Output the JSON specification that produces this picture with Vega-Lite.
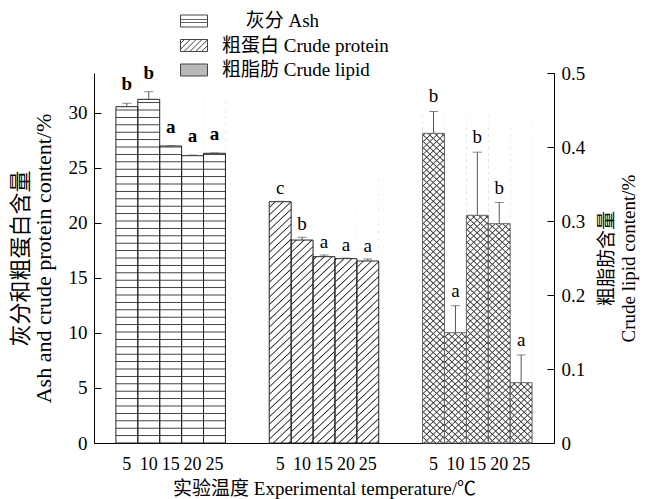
{
"$schema":"https://vega.github.io/schema/vega-lite/v6.json",
"width":460,"height":370,
"autosize":{"type":"none"},
"padding":{"left":94,"top":73,"right":97,"bottom":56},
"background":"white",
"config":{"view":{"stroke":null},
"axis":{"grid":false,"domainColor":"#000","tickColor":"#000","labelColor":"#000","titleColor":"#000","labelFont":"Liberation Serif, Noto Sans CJK SC","titleFont":"Liberation Serif, Noto Sans CJK SC","titleFontWeight":"normal","labelFontSize":19,"titleFontSize":19,"labelOverlap":false,"domainWidth":1,"tickWidth":1}},
"data":{"values":[
{"slot":"A5","comp":"Ash","v":30.54,"e":30.85,"sig":"b"},
{"slot":"A10","comp":"Ash","v":31.21,"e":31.9,"sig":"b"},
{"slot":"A15","comp":"Ash","v":26.97,"e":27.0,"sig":"a"},
{"slot":"A20","comp":"Ash","v":26.09,"e":26.15,"sig":"a"},
{"slot":"A25","comp":"Ash","v":26.31,"e":26.34,"sig":"a"},
{"slot":"P5","comp":"Crude protein","v":21.91,"e":21.95,"sig":"c"},
{"slot":"P10","comp":"Crude protein","v":18.43,"e":18.68,"sig":"b"},
{"slot":"P15","comp":"Crude protein","v":16.92,"e":17.07,"sig":"a"},
{"slot":"P20","comp":"Crude protein","v":16.74,"e":16.8,"sig":"a"},
{"slot":"P25","comp":"Crude protein","v":16.53,"e":16.71,"sig":"a"},
{"slot":"L5","comp":"Crude lipid","v":0.4185,"e":0.448,"sig":"b"},
{"slot":"L10","comp":"Crude lipid","v":0.149,"e":0.1856,"sig":"a"},
{"slot":"L15","comp":"Crude lipid","v":0.3077,"e":0.393,"sig":"b"},
{"slot":"L20","comp":"Crude lipid","v":0.2964,"e":0.325,"sig":"b"},
{"slot":"L25","comp":"Crude lipid","v":0.0815,"e":0.119,"sig":"a"}
]},
"encoding":{"x":{"field":"slot","type":"nominal",
"scale":{"domain":["A5","A10","A15","A20","A25","g1","g2","P5","P10","P15","P20","P25","g3","g4","L5","L10","L15","L20","L25"],"paddingInner":0,"paddingOuter":1.55},
"axis":{"title":"实验温度 Experimental temperature/℃","labelExpr":"indexof(datum.value,'g')==0 ? '' : substring(datum.value,1)","ticks":false,"labelAngle":0,"labelFontSize":18,"labelPadding":12,"titlePadding":6}}},
"layer":[
{"transform":[{"filter":"datum.comp != 'Crude lipid'"}],
"layer":[
{"transform":[{"filter":"datum.comp == 'Ash'"}],
"mark":{"type":"bar","fill":{"gradient":"linear","x1":0,"y1":0,"x2":0,"y2":1,"stops":[
{"offset":0.0775,"color":"#fff"},{"offset":0.08,"color":"#333"},{"offset":0.0825,"color":"#fff"},
{"offset":0.0975,"color":"#fff"},{"offset":0.1,"color":"#333"},{"offset":0.1025,"color":"#fff"},
{"offset":0.1175,"color":"#fff"},{"offset":0.12,"color":"#333"},{"offset":0.1225,"color":"#fff"},
{"offset":0.1375,"color":"#fff"},{"offset":0.14,"color":"#333"},{"offset":0.1425,"color":"#fff"},
{"offset":0.1575,"color":"#fff"},{"offset":0.16,"color":"#333"},{"offset":0.1625,"color":"#fff"},
{"offset":0.1775,"color":"#fff"},{"offset":0.18,"color":"#333"},{"offset":0.1825,"color":"#fff"},
{"offset":0.1975,"color":"#fff"},{"offset":0.2,"color":"#333"},{"offset":0.2025,"color":"#fff"},
{"offset":0.2175,"color":"#fff"},{"offset":0.22,"color":"#333"},{"offset":0.2225,"color":"#fff"},
{"offset":0.2375,"color":"#fff"},{"offset":0.24,"color":"#333"},{"offset":0.2425,"color":"#fff"},
{"offset":0.2575,"color":"#fff"},{"offset":0.26,"color":"#333"},{"offset":0.2625,"color":"#fff"},
{"offset":0.2775,"color":"#fff"},{"offset":0.28,"color":"#333"},{"offset":0.2825,"color":"#fff"},
{"offset":0.2975,"color":"#fff"},{"offset":0.3,"color":"#333"},{"offset":0.3025,"color":"#fff"},
{"offset":0.3175,"color":"#fff"},{"offset":0.32,"color":"#333"},{"offset":0.3225,"color":"#fff"},
{"offset":0.3375,"color":"#fff"},{"offset":0.34,"color":"#333"},{"offset":0.3425,"color":"#fff"},
{"offset":0.3575,"color":"#fff"},{"offset":0.36,"color":"#333"},{"offset":0.3625,"color":"#fff"},
{"offset":0.3775,"color":"#fff"},{"offset":0.38,"color":"#333"},{"offset":0.3825,"color":"#fff"},
{"offset":0.3975,"color":"#fff"},{"offset":0.4,"color":"#333"},{"offset":0.4025,"color":"#fff"},
{"offset":0.4175,"color":"#fff"},{"offset":0.42,"color":"#333"},{"offset":0.4225,"color":"#fff"},
{"offset":0.4375,"color":"#fff"},{"offset":0.44,"color":"#333"},{"offset":0.4425,"color":"#fff"},
{"offset":0.4575,"color":"#fff"},{"offset":0.46,"color":"#333"},{"offset":0.4625,"color":"#fff"},
{"offset":0.4775,"color":"#fff"},{"offset":0.48,"color":"#333"},{"offset":0.4825,"color":"#fff"},
{"offset":0.4975,"color":"#fff"},{"offset":0.5,"color":"#333"},{"offset":0.5025,"color":"#fff"},
{"offset":0.5175,"color":"#fff"},{"offset":0.52,"color":"#333"},{"offset":0.5225,"color":"#fff"},
{"offset":0.5375,"color":"#fff"},{"offset":0.54,"color":"#333"},{"offset":0.5425,"color":"#fff"},
{"offset":0.5575,"color":"#fff"},{"offset":0.56,"color":"#333"},{"offset":0.5625,"color":"#fff"},
{"offset":0.5775,"color":"#fff"},{"offset":0.58,"color":"#333"},{"offset":0.5825,"color":"#fff"},
{"offset":0.5975,"color":"#fff"},{"offset":0.6,"color":"#333"},{"offset":0.6025,"color":"#fff"},
{"offset":0.6175,"color":"#fff"},{"offset":0.62,"color":"#333"},{"offset":0.6225,"color":"#fff"},
{"offset":0.6375,"color":"#fff"},{"offset":0.64,"color":"#333"},{"offset":0.6425,"color":"#fff"},
{"offset":0.6575,"color":"#fff"},{"offset":0.66,"color":"#333"},{"offset":0.6625,"color":"#fff"},
{"offset":0.6775,"color":"#fff"},{"offset":0.68,"color":"#333"},{"offset":0.6825,"color":"#fff"},
{"offset":0.6975,"color":"#fff"},{"offset":0.7,"color":"#333"},{"offset":0.7025,"color":"#fff"},
{"offset":0.7175,"color":"#fff"},{"offset":0.72,"color":"#333"},{"offset":0.7225,"color":"#fff"},
{"offset":0.7375,"color":"#fff"},{"offset":0.74,"color":"#333"},{"offset":0.7425,"color":"#fff"},
{"offset":0.7575,"color":"#fff"},{"offset":0.76,"color":"#333"},{"offset":0.7625,"color":"#fff"},
{"offset":0.7775,"color":"#fff"},{"offset":0.78,"color":"#333"},{"offset":0.7825,"color":"#fff"},
{"offset":0.7975,"color":"#fff"},{"offset":0.8,"color":"#333"},{"offset":0.8025,"color":"#fff"},
{"offset":0.8175,"color":"#fff"},{"offset":0.82,"color":"#333"},{"offset":0.8225,"color":"#fff"},
{"offset":0.8375,"color":"#fff"},{"offset":0.84,"color":"#333"},{"offset":0.8425,"color":"#fff"},
{"offset":0.8575,"color":"#fff"},{"offset":0.86,"color":"#333"},{"offset":0.8625,"color":"#fff"},
{"offset":0.8775,"color":"#fff"},{"offset":0.88,"color":"#333"},{"offset":0.8825,"color":"#fff"},
{"offset":0.8975,"color":"#fff"},{"offset":0.9,"color":"#333"},{"offset":0.9025,"color":"#fff"},
{"offset":0.9175,"color":"#fff"},{"offset":0.92,"color":"#333"},{"offset":0.9225,"color":"#fff"},
{"offset":0.9375,"color":"#fff"},{"offset":0.94,"color":"#333"},{"offset":0.9425,"color":"#fff"},
{"offset":0.9575,"color":"#fff"},{"offset":0.96,"color":"#333"},{"offset":0.9625,"color":"#fff"},
{"offset":0.9775,"color":"#fff"},{"offset":0.98,"color":"#333"},{"offset":0.9825,"color":"#fff"}
]}},
"encoding":{"y":{"datum":33.6,"type":"quantitative","scale":{"domain":[0,33.6],"nice":false}},"y2":{"datum":0}}},
{"transform":[{"filter":"datum.comp == 'Crude protein'"}],
"mark":{"type":"bar","fill":{"gradient":"linear","x1":0,"y1":0,"x2":0.0596,"y2":1.06,"stops":[
{"offset":0.32,"color":"#fff"},{"offset":0.323,"color":"#222"},{"offset":0.326,"color":"#fff"},
{"offset":0.339,"color":"#fff"},{"offset":0.342,"color":"#222"},{"offset":0.345,"color":"#fff"},
{"offset":0.358,"color":"#fff"},{"offset":0.361,"color":"#222"},{"offset":0.364,"color":"#fff"},
{"offset":0.377,"color":"#fff"},{"offset":0.38,"color":"#222"},{"offset":0.383,"color":"#fff"},
{"offset":0.396,"color":"#fff"},{"offset":0.399,"color":"#222"},{"offset":0.402,"color":"#fff"},
{"offset":0.415,"color":"#fff"},{"offset":0.418,"color":"#222"},{"offset":0.421,"color":"#fff"},
{"offset":0.434,"color":"#fff"},{"offset":0.437,"color":"#222"},{"offset":0.44,"color":"#fff"},
{"offset":0.453,"color":"#fff"},{"offset":0.456,"color":"#222"},{"offset":0.459,"color":"#fff"},
{"offset":0.472,"color":"#fff"},{"offset":0.475,"color":"#222"},{"offset":0.478,"color":"#fff"},
{"offset":0.491,"color":"#fff"},{"offset":0.494,"color":"#222"},{"offset":0.497,"color":"#fff"},
{"offset":0.51,"color":"#fff"},{"offset":0.513,"color":"#222"},{"offset":0.516,"color":"#fff"},
{"offset":0.529,"color":"#fff"},{"offset":0.532,"color":"#222"},{"offset":0.535,"color":"#fff"},
{"offset":0.548,"color":"#fff"},{"offset":0.551,"color":"#222"},{"offset":0.554,"color":"#fff"},
{"offset":0.567,"color":"#fff"},{"offset":0.57,"color":"#222"},{"offset":0.573,"color":"#fff"},
{"offset":0.586,"color":"#fff"},{"offset":0.589,"color":"#222"},{"offset":0.592,"color":"#fff"},
{"offset":0.605,"color":"#fff"},{"offset":0.608,"color":"#222"},{"offset":0.611,"color":"#fff"},
{"offset":0.624,"color":"#fff"},{"offset":0.627,"color":"#222"},{"offset":0.63,"color":"#fff"},
{"offset":0.643,"color":"#fff"},{"offset":0.646,"color":"#222"},{"offset":0.649,"color":"#fff"},
{"offset":0.662,"color":"#fff"},{"offset":0.665,"color":"#222"},{"offset":0.668,"color":"#fff"},
{"offset":0.681,"color":"#fff"},{"offset":0.684,"color":"#222"},{"offset":0.687,"color":"#fff"},
{"offset":0.7,"color":"#fff"},{"offset":0.703,"color":"#222"},{"offset":0.706,"color":"#fff"},
{"offset":0.719,"color":"#fff"},{"offset":0.722,"color":"#222"},{"offset":0.725,"color":"#fff"},
{"offset":0.738,"color":"#fff"},{"offset":0.741,"color":"#222"},{"offset":0.744,"color":"#fff"},
{"offset":0.757,"color":"#fff"},{"offset":0.76,"color":"#222"},{"offset":0.763,"color":"#fff"},
{"offset":0.776,"color":"#fff"},{"offset":0.779,"color":"#222"},{"offset":0.782,"color":"#fff"},
{"offset":0.795,"color":"#fff"},{"offset":0.798,"color":"#222"},{"offset":0.801,"color":"#fff"},
{"offset":0.814,"color":"#fff"},{"offset":0.817,"color":"#222"},{"offset":0.82,"color":"#fff"},
{"offset":0.833,"color":"#fff"},{"offset":0.836,"color":"#222"},{"offset":0.839,"color":"#fff"},
{"offset":0.852,"color":"#fff"},{"offset":0.855,"color":"#222"},{"offset":0.858,"color":"#fff"},
{"offset":0.871,"color":"#fff"},{"offset":0.874,"color":"#222"},{"offset":0.877,"color":"#fff"},
{"offset":0.89,"color":"#fff"},{"offset":0.893,"color":"#222"},{"offset":0.896,"color":"#fff"},
{"offset":0.909,"color":"#fff"},{"offset":0.912,"color":"#222"},{"offset":0.915,"color":"#fff"},
{"offset":0.928,"color":"#fff"},{"offset":0.931,"color":"#222"},{"offset":0.934,"color":"#fff"},
{"offset":0.947,"color":"#fff"},{"offset":0.95,"color":"#222"},{"offset":0.953,"color":"#fff"},
{"offset":0.966,"color":"#fff"},{"offset":0.969,"color":"#222"},{"offset":0.972,"color":"#fff"},
{"offset":0.985,"color":"#fff"},{"offset":0.988,"color":"#222"},{"offset":0.991,"color":"#fff"}
]}},
"encoding":{"y":{"datum":33.6,"type":"quantitative","scale":{"domain":[0,33.6],"nice":false}},"y2":{"datum":0}}},
{"mark":{"type":"bar","fill":"#fff"},
"encoding":{"y":{"field":"v","type":"quantitative","scale":{"domain":[0,33.6],"nice":false}},"y2":{"datum":33.6}}},
{"mark":{"type":"bar","fill":"transparent","stroke":"#222","strokeWidth":1},
"encoding":{"y":{"field":"v","type":"quantitative","scale":{"domain":[0,33.6],"nice":false},
"axis":{"orient":"left","values":[0,2.5,5,7.5,10,12.5,15,17.5,20,22.5,25,27.5,30,32.5],"labelExpr":"datum.value % 5 == 0 ? format(datum.value,'d') : ''","tickSize":-7,"labelPadding":14,"title":["灰分和粗蛋白含量","Ash and crude protein content/%"],"titleFontSize":22,"titleLineHeight":23,"titlePadding":13}}}},
{"mark":{"type":"rule","stroke":"#555","strokeWidth":1},
"encoding":{"y":{"field":"v","type":"quantitative","scale":{"domain":[0,33.6],"nice":false}},"y2":{"field":"e"}}},
{"mark":{"type":"tick","color":"#555","size":9,"thickness":1},
"encoding":{"y":{"field":"e","type":"quantitative","scale":{"domain":[0,33.6],"nice":false}}}},
{"transform":[{"filter":"datum.comp == 'Ash'"}],
"mark":{"type":"text","font":"Liberation Serif","fontSize":19,"fontWeight":"bold","baseline":"alphabetic","dy":-13,"color":"#000"},
"encoding":{"y":{"field":"e","type":"quantitative","scale":{"domain":[0,33.6],"nice":false}},"text":{"field":"sig"}}},
{"transform":[{"filter":"datum.comp == 'Crude protein'"}],
"mark":{"type":"text","font":"Liberation Serif","fontSize":19,"baseline":"alphabetic","dy":-7,"color":"#000"},
"encoding":{"y":{"field":"e","type":"quantitative","scale":{"domain":[0,33.6],"nice":false}},"text":{"field":"sig"}}},
{"mark":{"type":"bar"},
"encoding":{"y":{"datum":0,"type":"quantitative","scale":{"domain":[0,33.6],"nice":false}},"y2":{"datum":0},
"fill":{"field":"comp","type":"nominal","scale":{"domain":["Ash","Crude protein","Crude lipid"],"range":[
{"expr":"{gradient:'linear',x1:0,y1:0,x2:0,y2:1,stops:[{offset:0.3,color:'#fff'},{offset:0.36,color:'#333'},{offset:0.42,color:'#fff'},{offset:0.58,color:'#fff'},{offset:0.64,color:'#333'},{offset:0.7,color:'#fff'}]}"},
{"expr":"{gradient:'linear',x1:0,y1:0,x2:1.206,y2:0.536,stops:[{offset:0.075,color:'#fff'},{offset:0.1,color:'#333'},{offset:0.125,color:'#fff'},{offset:0.225,color:'#fff'},{offset:0.25,color:'#333'},{offset:0.275,color:'#fff'},{offset:0.375,color:'#fff'},{offset:0.4,color:'#333'},{offset:0.425,color:'#fff'},{offset:0.525,color:'#fff'},{offset:0.55,color:'#333'},{offset:0.575,color:'#fff'},{offset:0.675,color:'#fff'},{offset:0.7,color:'#333'},{offset:0.725,color:'#fff'},{offset:0.825,color:'#fff'},{offset:0.85,color:'#333'},{offset:0.875,color:'#fff'}]}"},
"#b8b8b8"]},
"legend":{"orient":"none","legendX":86,"legendY":-66,"title":null,"symbolType":"M-1,-0.444H1V0.444H-1Z","symbolSize":729,"labelFont":"Liberation Serif, Noto Sans CJK SC","labelFontSize":19,"labelColor":"#000","labelOffset":14,"labelLimit":500,"rowPadding":0.5,"padding":0,"symbolStrokeColor":"#444","symbolStrokeWidth":1,"symbolOpacity":1,
"labelExpr":"datum.value == 'Ash' ? '\u200b\u00a0\u00a0\u00a0\u00a0\u00a0灰分 Ash' : datum.value == 'Crude protein' ? '粗蛋白 Crude protein' : '粗脂肪 Crude lipid'",
"encode":{"symbols":{"update":{"stroke":{"value":"#444"},"strokeWidth":{"value":1}}}}}}}}
]},
{"transform":[{"filter":"datum.comp == 'Crude lipid'"}],
"layer":[
{"mark":{"type":"bar","fill":{"gradient":"linear","x1":0,"y1":0,"x2":0.0596,"y2":1.06,"stops":[
{"offset":0.141,"color":"#fff"},{"offset":0.144,"color":"#444"},{"offset":0.147,"color":"#fff"},
{"offset":0.157,"color":"#fff"},{"offset":0.16,"color":"#444"},{"offset":0.163,"color":"#fff"},
{"offset":0.173,"color":"#fff"},{"offset":0.176,"color":"#444"},{"offset":0.179,"color":"#fff"},
{"offset":0.189,"color":"#fff"},{"offset":0.192,"color":"#444"},{"offset":0.195,"color":"#fff"},
{"offset":0.205,"color":"#fff"},{"offset":0.208,"color":"#444"},{"offset":0.211,"color":"#fff"},
{"offset":0.221,"color":"#fff"},{"offset":0.224,"color":"#444"},{"offset":0.227,"color":"#fff"},
{"offset":0.237,"color":"#fff"},{"offset":0.24,"color":"#444"},{"offset":0.243,"color":"#fff"},
{"offset":0.253,"color":"#fff"},{"offset":0.256,"color":"#444"},{"offset":0.259,"color":"#fff"},
{"offset":0.269,"color":"#fff"},{"offset":0.272,"color":"#444"},{"offset":0.275,"color":"#fff"},
{"offset":0.285,"color":"#fff"},{"offset":0.288,"color":"#444"},{"offset":0.291,"color":"#fff"},
{"offset":0.301,"color":"#fff"},{"offset":0.304,"color":"#444"},{"offset":0.307,"color":"#fff"},
{"offset":0.317,"color":"#fff"},{"offset":0.32,"color":"#444"},{"offset":0.323,"color":"#fff"},
{"offset":0.333,"color":"#fff"},{"offset":0.336,"color":"#444"},{"offset":0.339,"color":"#fff"},
{"offset":0.349,"color":"#fff"},{"offset":0.352,"color":"#444"},{"offset":0.355,"color":"#fff"},
{"offset":0.365,"color":"#fff"},{"offset":0.368,"color":"#444"},{"offset":0.371,"color":"#fff"},
{"offset":0.381,"color":"#fff"},{"offset":0.384,"color":"#444"},{"offset":0.387,"color":"#fff"},
{"offset":0.397,"color":"#fff"},{"offset":0.4,"color":"#444"},{"offset":0.403,"color":"#fff"},
{"offset":0.413,"color":"#fff"},{"offset":0.416,"color":"#444"},{"offset":0.419,"color":"#fff"},
{"offset":0.429,"color":"#fff"},{"offset":0.432,"color":"#444"},{"offset":0.435,"color":"#fff"},
{"offset":0.445,"color":"#fff"},{"offset":0.448,"color":"#444"},{"offset":0.451,"color":"#fff"},
{"offset":0.461,"color":"#fff"},{"offset":0.464,"color":"#444"},{"offset":0.467,"color":"#fff"},
{"offset":0.477,"color":"#fff"},{"offset":0.48,"color":"#444"},{"offset":0.483,"color":"#fff"},
{"offset":0.493,"color":"#fff"},{"offset":0.496,"color":"#444"},{"offset":0.499,"color":"#fff"},
{"offset":0.509,"color":"#fff"},{"offset":0.512,"color":"#444"},{"offset":0.515,"color":"#fff"},
{"offset":0.525,"color":"#fff"},{"offset":0.528,"color":"#444"},{"offset":0.531,"color":"#fff"},
{"offset":0.541,"color":"#fff"},{"offset":0.544,"color":"#444"},{"offset":0.547,"color":"#fff"},
{"offset":0.557,"color":"#fff"},{"offset":0.56,"color":"#444"},{"offset":0.563,"color":"#fff"},
{"offset":0.573,"color":"#fff"},{"offset":0.576,"color":"#444"},{"offset":0.579,"color":"#fff"},
{"offset":0.589,"color":"#fff"},{"offset":0.592,"color":"#444"},{"offset":0.595,"color":"#fff"},
{"offset":0.605,"color":"#fff"},{"offset":0.608,"color":"#444"},{"offset":0.611,"color":"#fff"},
{"offset":0.621,"color":"#fff"},{"offset":0.624,"color":"#444"},{"offset":0.627,"color":"#fff"},
{"offset":0.637,"color":"#fff"},{"offset":0.64,"color":"#444"},{"offset":0.643,"color":"#fff"},
{"offset":0.653,"color":"#fff"},{"offset":0.656,"color":"#444"},{"offset":0.659,"color":"#fff"},
{"offset":0.669,"color":"#fff"},{"offset":0.672,"color":"#444"},{"offset":0.675,"color":"#fff"},
{"offset":0.685,"color":"#fff"},{"offset":0.688,"color":"#444"},{"offset":0.691,"color":"#fff"},
{"offset":0.701,"color":"#fff"},{"offset":0.704,"color":"#444"},{"offset":0.707,"color":"#fff"},
{"offset":0.717,"color":"#fff"},{"offset":0.72,"color":"#444"},{"offset":0.723,"color":"#fff"},
{"offset":0.733,"color":"#fff"},{"offset":0.736,"color":"#444"},{"offset":0.739,"color":"#fff"},
{"offset":0.749,"color":"#fff"},{"offset":0.752,"color":"#444"},{"offset":0.755,"color":"#fff"},
{"offset":0.765,"color":"#fff"},{"offset":0.768,"color":"#444"},{"offset":0.771,"color":"#fff"},
{"offset":0.781,"color":"#fff"},{"offset":0.784,"color":"#444"},{"offset":0.787,"color":"#fff"},
{"offset":0.797,"color":"#fff"},{"offset":0.8,"color":"#444"},{"offset":0.803,"color":"#fff"},
{"offset":0.813,"color":"#fff"},{"offset":0.816,"color":"#444"},{"offset":0.819,"color":"#fff"},
{"offset":0.829,"color":"#fff"},{"offset":0.832,"color":"#444"},{"offset":0.835,"color":"#fff"},
{"offset":0.845,"color":"#fff"},{"offset":0.848,"color":"#444"},{"offset":0.851,"color":"#fff"},
{"offset":0.861,"color":"#fff"},{"offset":0.864,"color":"#444"},{"offset":0.867,"color":"#fff"},
{"offset":0.877,"color":"#fff"},{"offset":0.88,"color":"#444"},{"offset":0.883,"color":"#fff"},
{"offset":0.893,"color":"#fff"},{"offset":0.896,"color":"#444"},{"offset":0.899,"color":"#fff"},
{"offset":0.909,"color":"#fff"},{"offset":0.912,"color":"#444"},{"offset":0.915,"color":"#fff"},
{"offset":0.925,"color":"#fff"},{"offset":0.928,"color":"#444"},{"offset":0.931,"color":"#fff"},
{"offset":0.941,"color":"#fff"},{"offset":0.944,"color":"#444"},{"offset":0.947,"color":"#fff"},
{"offset":0.957,"color":"#fff"},{"offset":0.96,"color":"#444"},{"offset":0.963,"color":"#fff"},
{"offset":0.973,"color":"#fff"},{"offset":0.976,"color":"#444"},{"offset":0.979,"color":"#fff"},
{"offset":0.989,"color":"#fff"},{"offset":0.992,"color":"#444"},{"offset":0.995,"color":"#fff"}
]}},
"encoding":{"y":{"datum":0.5,"type":"quantitative","scale":{"domain":[0,0.5],"nice":false}},"y2":{"datum":0}}},
{"mark":{"type":"bar","fill":{"gradient":"linear","x1":0,"y1":1,"x2":0.0596,"y2":-0.06,"stops":[
{"offset":0.013,"color":"transparent"},{"offset":0.016,"color":"#444"},{"offset":0.019,"color":"transparent"},
{"offset":0.029,"color":"transparent"},{"offset":0.032,"color":"#444"},{"offset":0.035,"color":"transparent"},
{"offset":0.045,"color":"transparent"},{"offset":0.048,"color":"#444"},{"offset":0.051,"color":"transparent"},
{"offset":0.061,"color":"transparent"},{"offset":0.064,"color":"#444"},{"offset":0.067,"color":"transparent"},
{"offset":0.077,"color":"transparent"},{"offset":0.08,"color":"#444"},{"offset":0.083,"color":"transparent"},
{"offset":0.093,"color":"transparent"},{"offset":0.096,"color":"#444"},{"offset":0.099,"color":"transparent"},
{"offset":0.109,"color":"transparent"},{"offset":0.112,"color":"#444"},{"offset":0.115,"color":"transparent"},
{"offset":0.125,"color":"transparent"},{"offset":0.128,"color":"#444"},{"offset":0.131,"color":"transparent"},
{"offset":0.141,"color":"transparent"},{"offset":0.144,"color":"#444"},{"offset":0.147,"color":"transparent"},
{"offset":0.157,"color":"transparent"},{"offset":0.16,"color":"#444"},{"offset":0.163,"color":"transparent"},
{"offset":0.173,"color":"transparent"},{"offset":0.176,"color":"#444"},{"offset":0.179,"color":"transparent"},
{"offset":0.189,"color":"transparent"},{"offset":0.192,"color":"#444"},{"offset":0.195,"color":"transparent"},
{"offset":0.205,"color":"transparent"},{"offset":0.208,"color":"#444"},{"offset":0.211,"color":"transparent"},
{"offset":0.221,"color":"transparent"},{"offset":0.224,"color":"#444"},{"offset":0.227,"color":"transparent"},
{"offset":0.237,"color":"transparent"},{"offset":0.24,"color":"#444"},{"offset":0.243,"color":"transparent"},
{"offset":0.253,"color":"transparent"},{"offset":0.256,"color":"#444"},{"offset":0.259,"color":"transparent"},
{"offset":0.269,"color":"transparent"},{"offset":0.272,"color":"#444"},{"offset":0.275,"color":"transparent"},
{"offset":0.285,"color":"transparent"},{"offset":0.288,"color":"#444"},{"offset":0.291,"color":"transparent"},
{"offset":0.301,"color":"transparent"},{"offset":0.304,"color":"#444"},{"offset":0.307,"color":"transparent"},
{"offset":0.317,"color":"transparent"},{"offset":0.32,"color":"#444"},{"offset":0.323,"color":"transparent"},
{"offset":0.333,"color":"transparent"},{"offset":0.336,"color":"#444"},{"offset":0.339,"color":"transparent"},
{"offset":0.349,"color":"transparent"},{"offset":0.352,"color":"#444"},{"offset":0.355,"color":"transparent"},
{"offset":0.365,"color":"transparent"},{"offset":0.368,"color":"#444"},{"offset":0.371,"color":"transparent"},
{"offset":0.381,"color":"transparent"},{"offset":0.384,"color":"#444"},{"offset":0.387,"color":"transparent"},
{"offset":0.397,"color":"transparent"},{"offset":0.4,"color":"#444"},{"offset":0.403,"color":"transparent"},
{"offset":0.413,"color":"transparent"},{"offset":0.416,"color":"#444"},{"offset":0.419,"color":"transparent"},
{"offset":0.429,"color":"transparent"},{"offset":0.432,"color":"#444"},{"offset":0.435,"color":"transparent"},
{"offset":0.445,"color":"transparent"},{"offset":0.448,"color":"#444"},{"offset":0.451,"color":"transparent"},
{"offset":0.461,"color":"transparent"},{"offset":0.464,"color":"#444"},{"offset":0.467,"color":"transparent"},
{"offset":0.477,"color":"transparent"},{"offset":0.48,"color":"#444"},{"offset":0.483,"color":"transparent"},
{"offset":0.493,"color":"transparent"},{"offset":0.496,"color":"#444"},{"offset":0.499,"color":"transparent"},
{"offset":0.509,"color":"transparent"},{"offset":0.512,"color":"#444"},{"offset":0.515,"color":"transparent"},
{"offset":0.525,"color":"transparent"},{"offset":0.528,"color":"#444"},{"offset":0.531,"color":"transparent"},
{"offset":0.541,"color":"transparent"},{"offset":0.544,"color":"#444"},{"offset":0.547,"color":"transparent"},
{"offset":0.557,"color":"transparent"},{"offset":0.56,"color":"#444"},{"offset":0.563,"color":"transparent"},
{"offset":0.573,"color":"transparent"},{"offset":0.576,"color":"#444"},{"offset":0.579,"color":"transparent"},
{"offset":0.589,"color":"transparent"},{"offset":0.592,"color":"#444"},{"offset":0.595,"color":"transparent"},
{"offset":0.605,"color":"transparent"},{"offset":0.608,"color":"#444"},{"offset":0.611,"color":"transparent"},
{"offset":0.621,"color":"transparent"},{"offset":0.624,"color":"#444"},{"offset":0.627,"color":"transparent"},
{"offset":0.637,"color":"transparent"},{"offset":0.64,"color":"#444"},{"offset":0.643,"color":"transparent"},
{"offset":0.653,"color":"transparent"},{"offset":0.656,"color":"#444"},{"offset":0.659,"color":"transparent"},
{"offset":0.669,"color":"transparent"},{"offset":0.672,"color":"#444"},{"offset":0.675,"color":"transparent"},
{"offset":0.685,"color":"transparent"},{"offset":0.688,"color":"#444"},{"offset":0.691,"color":"transparent"},
{"offset":0.701,"color":"transparent"},{"offset":0.704,"color":"#444"},{"offset":0.707,"color":"transparent"},
{"offset":0.717,"color":"transparent"},{"offset":0.72,"color":"#444"},{"offset":0.723,"color":"transparent"},
{"offset":0.733,"color":"transparent"},{"offset":0.736,"color":"#444"},{"offset":0.739,"color":"transparent"},
{"offset":0.749,"color":"transparent"},{"offset":0.752,"color":"#444"},{"offset":0.755,"color":"transparent"},
{"offset":0.765,"color":"transparent"},{"offset":0.768,"color":"#444"},{"offset":0.771,"color":"transparent"},
{"offset":0.781,"color":"transparent"},{"offset":0.784,"color":"#444"},{"offset":0.787,"color":"transparent"},
{"offset":0.797,"color":"transparent"},{"offset":0.8,"color":"#444"},{"offset":0.803,"color":"transparent"},
{"offset":0.813,"color":"transparent"},{"offset":0.816,"color":"#444"},{"offset":0.819,"color":"transparent"},
{"offset":0.829,"color":"transparent"},{"offset":0.832,"color":"#444"},{"offset":0.835,"color":"transparent"}
]}},
"encoding":{"y":{"datum":0.5,"type":"quantitative","scale":{"domain":[0,0.5],"nice":false}},"y2":{"datum":0}}},
{"mark":{"type":"bar","fill":"#fff"},
"encoding":{"y":{"field":"v","type":"quantitative","scale":{"domain":[0,0.5],"nice":false}},"y2":{"datum":0.5}}},
{"mark":{"type":"bar","fill":"transparent","stroke":"#666","strokeWidth":1},
"encoding":{"y":{"field":"v","type":"quantitative","scale":{"domain":[0,0.5],"nice":false},
"axis":{"orient":"right","values":[0,0.05,0.1,0.15,0.2,0.25,0.3,0.35,0.4,0.45,0.5],"labelExpr":"round(datum.value*20) % 2 == 0 ? format(datum.value,'~g') : ''","tickSize":-7,"labelPadding":14,"title":["粗脂肪含量","Crude lipid content/%"],"titleAngle":-90,"titleBaseline":"top","titleLineHeight":22,"titlePadding":-9}}}},
{"mark":{"type":"rule","stroke":"#555","strokeWidth":1},
"encoding":{"y":{"field":"v","type":"quantitative","scale":{"domain":[0,0.5],"nice":false}},"y2":{"field":"e"}}},
{"mark":{"type":"tick","color":"#555","size":9,"thickness":1},
"encoding":{"y":{"field":"e","type":"quantitative","scale":{"domain":[0,0.5],"nice":false}}}},
{"mark":{"type":"text","font":"Liberation Serif","fontSize":19,"baseline":"alphabetic","dy":-9,"color":"#000"},
"encoding":{"y":{"field":"e","type":"quantitative","scale":{"domain":[0,0.5],"nice":false}},"text":{"field":"sig"}}}
]}
],
"resolve":{"scale":{"y":"independent"}}
}
